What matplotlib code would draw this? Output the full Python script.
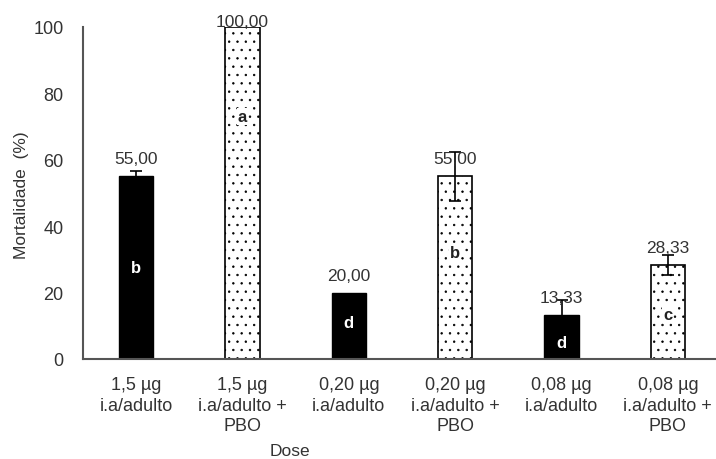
import matplotlib
matplotlib.use("Agg")
import matplotlib.pyplot as plt
import numpy as np

categories = ["1,5 µg\ni.a/adulto", "1,5 µg\ni.a/adulto +\nPBO",
              "0,20 µg\ni.a/adulto", "0,20 µg\ni.a/adulto +\nPBO",
              "0,08 µg\ni.a/adulto", "0,08 µg\ni.a/adulto +\nPBO"]
values = [55.00, 100.00, 20.00, 55.00, 13.33, 28.33]
errors = [1.6, 0.0, 0.0, 7.5, 4.3, 3.1]
value_labels = ["55,00", "100,00", "20,00", "55,00", "13,33", "28,33"]
letters = ["b", "a", "d", "b", "d", "c"]
letter_y = [27.5, 73, 11, 32, 5, 13.5]
with_pbo = [False, True, False, True, False, True]
yticks = [0, 20, 40, 60, 80, 100]

plt.rcParams['font.family'] = ['Liberation Sans', 'DejaVu Sans']
plt.rcParams['hatch.linewidth'] = 0.5

fig = plt.figure(figsize=(7.16, 4.6), dpi=100)
ax = fig.add_axes([83/716, 100/460, 638/716, 332/460])

txt = '#333333'
x = np.arange(len(categories))
for i in range(len(categories)):
    if with_pbo[i]:
        ax.bar(x[i], values[i], width=0.32, color='white', edgecolor='black',
               linewidth=1.2, hatch='..', zorder=2)
    else:
        ax.bar(x[i], values[i], width=0.32, color='black', edgecolor='black',
               linewidth=1.0, zorder=2)
    if errors[i] > 0:
        ax.errorbar(x[i], values[i], yerr=errors[i], fmt='none', ecolor='black',
                    elinewidth=1.2, capsize=4, capthick=1.2, zorder=3)
    ax.text(x[i], min(values[i] + 5.3, 101.8), value_labels[i], ha='center',
            va='center', fontsize=12.5, color=txt, zorder=4, clip_on=False)
    if with_pbo[i]:
        ax.text(x[i], letter_y[i], letters[i], ha='center', va='center',
                fontsize=12, fontweight='bold', color='#222222', zorder=4,
                bbox=dict(boxstyle='square,pad=0.05', fc='white', ec='none'))
    else:
        ax.text(x[i], letter_y[i], letters[i], ha='center', va='center',
                fontsize=12, fontweight='bold', color='white', zorder=4)

ax.set_xlim(-0.5, 5.5)
ax.set_ylim(0, 100)
ax.set_yticks(yticks)
ax.set_yticklabels([str(t) for t in yticks])
ax.set_xticks(x)
ax.set_xticklabels(categories, linespacing=1.3)
ax.tick_params(axis='both', length=0, labelsize=13, colors=txt)
ax.tick_params(axis='y', pad=14)
ax.tick_params(axis='x', pad=12)
for s in ['top', 'right']:
    ax.spines[s].set_visible(False)
for s in ['left', 'bottom']:
    ax.spines[s].set_color('#555555')
    ax.spines[s].set_linewidth(1.5)

fig.text(22/716, 1 - 195/460, "Mortalidade  (%)", rotation=90, ha='center',
         va='center', fontsize=12.5, color=txt)
fig.text(290/716, 1 - 452/460, "Dose", ha='center', va='center', fontsize=12.5,
         color=txt)

fig.savefig("out.png", dpi=100)
